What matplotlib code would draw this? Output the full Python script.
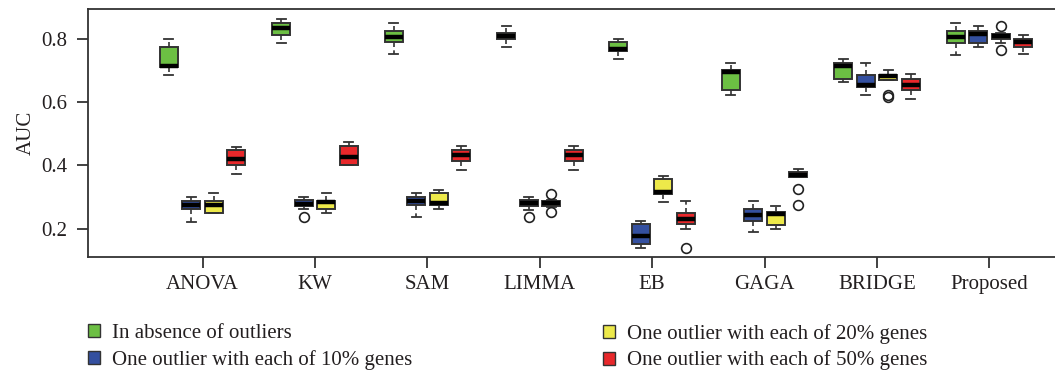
import numpy as np
import matplotlib
matplotlib.use("Agg")
import matplotlib.pyplot as plt
from matplotlib.patches import Patch

plt.rcParams['font.family'] = ['Liberation Serif', 'DejaVu Serif']

methods = ["ANOVA", "KW", "SAM", "LIMMA", "EB", "GAGA", "BRIDGE", "Proposed"]
series = ["In absence of outliers", "One outlier with each of 10% genes",
          "One outlier with each of 20% genes", "One outlier with each of 50% genes"]
colors = ["#6cbf43", "#3450a0", "#ede94a", "#e8282b"]

# per method: [whislo, q1, med, q3, whishi]
green = [[0.686, 0.711, 0.715, 0.774, 0.800],
         [0.787, 0.813, 0.833, 0.850, 0.864],
         [0.752, 0.789, 0.806, 0.825, 0.850],
         [0.775, 0.799, 0.808, 0.818, 0.840],
         [0.736, 0.761, 0.768, 0.789, 0.800],
         [0.624, 0.638, 0.695, 0.700, 0.724],
         [0.663, 0.674, 0.715, 0.724, 0.737],
         [0.749, 0.787, 0.806, 0.823, 0.850]]
blue = [[0.223, 0.261, 0.276, 0.287, 0.300],
        [0.262, 0.271, 0.279, 0.290, 0.300],
        [0.238, 0.274, 0.287, 0.301, 0.313],
        [0.260, 0.272, 0.281, 0.291, 0.300],
        [0.139, 0.151, 0.177, 0.214, 0.225],
        [0.189, 0.225, 0.245, 0.263, 0.287],
        [0.624, 0.647, 0.654, 0.686, 0.725],
        [0.775, 0.787, 0.815, 0.825, 0.840]]
yellow = [[0.249, 0.249, 0.276, 0.288, 0.312],
          [0.250, 0.262, 0.284, 0.288, 0.314],
          [0.262, 0.274, 0.281, 0.312, 0.322],
          [0.268, 0.272, 0.280, 0.288, 0.292],
          [0.284, 0.309, 0.317, 0.356, 0.367],
          [0.199, 0.212, 0.246, 0.252, 0.273],
          [0.670, 0.670, 0.682, 0.686, 0.700],
          [0.787, 0.800, 0.808, 0.814, 0.818]]
red = [[0.373, 0.400, 0.420, 0.449, 0.459],
       [0.400, 0.400, 0.427, 0.461, 0.474],
       [0.386, 0.413, 0.432, 0.449, 0.462],
       [0.386, 0.413, 0.432, 0.449, 0.462],
       [0.200, 0.214, 0.232, 0.249, 0.288],
       [0.363, 0.363, 0.371, 0.380, 0.388],
       [0.611, 0.638, 0.653, 0.674, 0.689],
       [0.752, 0.775, 0.790, 0.800, 0.813]]

green_out = [[], [], [], [], [], [], [], []]
blue_out = [[], [0.238], [], [0.237], [], [], [], []]
yellow_out = [[], [], [], [0.310, 0.252], [], [], [0.624, 0.615], [0.840, 0.763]]
red_out = [[], [], [], [], [0.138], [0.325, 0.275], [], []]

all_stats = [green, blue, yellow, red]
all_out = [green_out, blue_out, yellow_out, red_out]

txt = "#231f20"
fs = 15
fig = plt.figure(figsize=(10.55, 3.72), dpi=100)
ax = fig.add_axes([88 / 1055, 1 - 257 / 372, (1062 - 88) / 1055, 248 / 372])

pos = np.arange(1, len(methods) + 1)
offsets = [-0.3, -0.1, 0.1, 0.3]
for k in range(4):
    stats = []
    for i in range(len(methods)):
        lo, q1, med, q3, hi = all_stats[k][i]
        stats.append(dict(whislo=lo, q1=q1, med=med, q3=q3, whishi=hi,
                          fliers=all_out[k][i]))
    ax.bxp(stats, positions=pos + offsets[k], widths=0.16, patch_artist=True,
           showfliers=True,
           boxprops=dict(facecolor=colors[k], edgecolor="#333333", linewidth=1.4),
           medianprops=dict(color="black", linewidth=3.2, solid_capstyle="butt"),
           whiskerprops=dict(color="#333333", linewidth=1.2, linestyle=(0, (3, 2))),
           capprops=dict(color="#333333", linewidth=1.3),
           flierprops=dict(marker="o", markerfacecolor="none", markeredgecolor="#222222",
                           markersize=7, markeredgewidth=1.2))

ax.set_xlim(1 - (202.7 - 88) / 112.4, 8 + (1062 - 989.3) / 112.4)
ax.set_ylim(0.111, 0.894)
ax.set_xticks(pos)
ax.set_xticklabels(methods)
ax.set_yticks([0.2, 0.4, 0.6, 0.8])
ax.set_yticklabels(["0.2", "0.4", "0.6", "0.8"])
ax.set_ylabel("AUC", fontsize=fs, color=txt, labelpad=4)
ax.tick_params(axis="both", labelsize=fs, colors="#333333", labelcolor=txt,
               length=8, width=1.3, direction="out")
ax.tick_params(axis="y", pad=7)
ax.tick_params(axis="x", pad=5)
for s in ["left", "bottom", "top"]:
    ax.spines[s].set_linewidth(1.3)
    ax.spines[s].set_color("#333333")
ax.spines["right"].set_visible(False)

def mk(c, lab):
    return Patch(facecolor=c, edgecolor="#333333", linewidth=1.0, label=lab)

leg_kw = dict(loc="upper left", frameon=False, fontsize=fs, handlelength=0.58,
              handleheight=0.58, handletextpad=0.55, labelspacing=0.32,
              borderaxespad=0, borderpad=0)
leg1 = fig.legend(handles=[mk(colors[0], series[0]), mk(colors[1], series[1])],
                  bbox_to_anchor=(88 / 1055, 1 - 324 / 372), **leg_kw)
leg2 = fig.legend(handles=[mk(colors[2], series[2]), mk(colors[3], series[3])],
                  bbox_to_anchor=(603 / 1055, 1 - 324 / 372), **leg_kw)
for lg in (leg1, leg2):
    for t in lg.get_texts():
        t.set_color(txt)

fig.savefig("out.png", dpi=100)
